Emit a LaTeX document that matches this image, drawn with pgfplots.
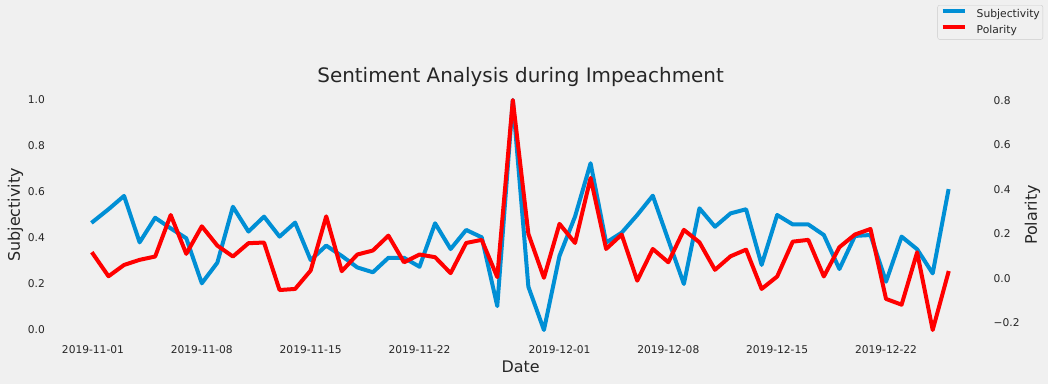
\documentclass[border=0pt]{standalone}
\usepackage{pgfplots}
\usepackage{pgfplotstable}
\pgfplotsset{compat=1.18}
\usepackage{fontspec}
\setmainfont{DejaVu Sans}
\definecolor{bg}{HTML}{F0F0F0}
\definecolor{fteblue}{HTML}{008FD5}
\definecolor{txt}{HTML}{262626}

\pgfplotstableread{
d s p
0 0.471 0.110
1 0.525 0.009
2 0.583 0.060
3 0.381 0.083
4 0.488 0.098
5 0.442 0.285
6 0.399 0.110
7 0.203 0.234
8 0.293 0.147
9 0.536 0.098
10 0.428 0.158
11 0.493 0.161
12 0.406 -0.053
13 0.467 -0.048
14 0.304 0.035
15 0.367 0.279
16 0.322 0.032
17 0.272 0.107
18 0.251 0.125
19 0.314 0.192
20 0.314 0.072
21 0.275 0.107
22 0.464 0.095
23 0.352 0.023
24 0.435 0.159
25 0.403 0.173
26 0.104 0.005
27 1.000 0.803
28 0.188 0.200
29 0.000 0.002
30 0.322 0.245
31 0.493 0.159
32 0.725 0.452
33 0.380 0.132
34 0.423 0.197
35 0.500 -0.011
36 0.584 0.132
37 0.391 0.072
38 0.200 0.218
39 0.529 0.162
40 0.449 0.038
41 0.507 0.099
42 0.525 0.129
43 0.283 -0.048
44 0.500 0.008
45 0.459 0.165
46 0.459 0.173
47 0.413 0.008
48 0.265 0.140
49 0.409 0.197
50 0.413 0.222
51 0.210 -0.093
52 0.406 -0.119
53 0.351 0.117
54 0.246 -0.233
55 0.604 0.024
}\data

\begin{document}
\begin{tikzpicture}
\fill[bg] (0,0) rectangle (1048bp,384bp);
\useasboundingbox (0,0) rectangle (1048bp,384bp);
\pgfplotsset{
  common/.style={
    at={(50.2bp,42.5bp)}, anchor=south west, scale only axis,
    width=940.8bp, height=253bp,
    xmin=-2.75, xmax=57.75,
    axis line style={draw=none}, major tick length=0pt,
    ticklabel style={font=\fontsize{10.7}{12}\selectfont, text=txt, inner sep=0pt},
    label style={font=\fontsize{16}{19}\selectfont, text=txt},
  }
}
\begin{axis}[common,
  ymin=-0.05, ymax=1.05,
  axis x line*=bottom, axis y line*=left,
  xtick={0,7,14,21,30,37,44,51},
  xticklabels={2019-11-01,2019-11-08,2019-11-15,2019-11-22,2019-12-01,2019-12-08,2019-12-15,2019-12-22},
  xticklabel style={anchor=north, yshift=-3.9bp},
  ytick={0,0.2,0.4,0.6,0.8,1.0},
  yticklabels={0.0,0.2,0.4,0.6,0.8,1.0},
  yticklabel style={anchor=east, xshift=-5.2bp},
  xlabel={Date},
  xlabel style={at={(axis description cs:0.5,0)}, anchor=center, yshift=-25.3bp},
  ylabel={Subjectivity},
  ylabel style={at={([xshift=-34.8bp]axis description cs:0,0.5)}, anchor=center},
  title={Sentiment Analysis during Impeachment},
  every axis title/.style={at={([yshift=6.2bp]axis description cs:0.5,1)}, anchor=base, font=\fontsize{20}{24}\selectfont, text=txt},
]
\addplot[fteblue, line width=4bp, line join=round, line cap=rect] table[x=d, y=s] {\data};
\end{axis}
\begin{axis}[common,
  ymin=-0.2848, ymax=0.8548,
  axis x line*=bottom, axis y line*=right,
  xtick=\empty,
  ytick={-0.2,0,0.2,0.4,0.6,0.8},
  yticklabels={−0.2,0.0,0.2,0.4,0.6,0.8},
  yticklabel style={anchor=west, xshift=2.5bp},
  ylabel={Polarity},
  ylabel style={at={([xshift=41.5bp]axis description cs:1,0.5)}, anchor=center},
  legend style={at={(axis description cs:1.0553,1.330)}, anchor=north east,
    fill=bg, draw={rgb,255:red,204;green,204;blue,204}, rounded corners=2bp,
    inner xsep=3bp, inner ysep=4bp, row sep=4.6bp,
    nodes={inner sep=0pt, text=txt, font=\fontsize{10.8}{12.6}\selectfont, text height=8bp, text depth=2.4bp},
    /tikz/every odd column/.style={column sep=10bp}},
  legend cell align=left,
  legend image code/.code={\draw[#1, line cap=butt] (0bp,3.6bp) -- (22bp,3.6bp);},
]
\addlegendimage{fteblue, line width=4bp}
\addlegendentry{Subjectivity}
\addplot[red, line width=4bp, line join=round, line cap=rect] table[x=d, y=p] {\data};
\addlegendentry{Polarity}
\end{axis}
\end{tikzpicture}
\end{document}
